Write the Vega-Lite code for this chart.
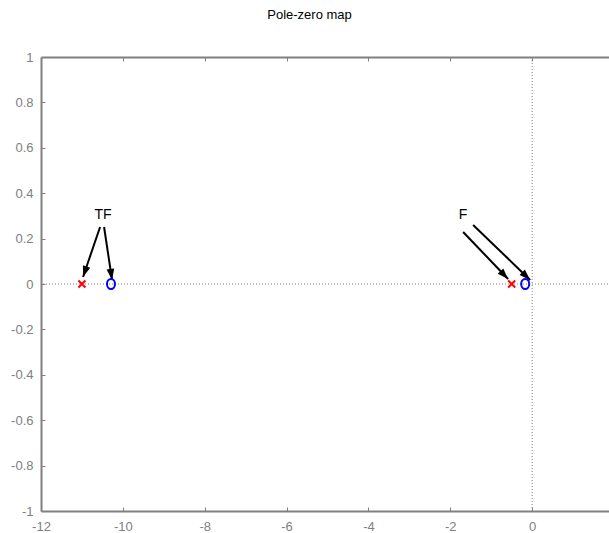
{
  "$schema": "https://vega.github.io/schema/vega-lite/v6.json",
  "width": 573,
  "height": 454,
  "autosize": {"type": "none"},
  "padding": {"left": 41, "top": 57, "right": -5, "bottom": 22},
  "title": {
    "text": "Pole-zero map",
    "font": "Liberation Sans",
    "fontSize": 13,
    "fontWeight": "normal",
    "color": "#000000",
    "dx": -18,
    "offset": 19,
    "baseline": "alphabetic"
  },
  "config": {
    "view": {"stroke": null},
    "axis": {
      "domainColor": "#808080",
      "domainWidth": 2,
      "tickColor": "#808080",
      "tickSize": -4,
      "tickWidth": 1,
      "labelColor": "#808080",
      "labelFont": "Liberation Sans",
      "labelFontSize": 13,
      "labelPadding": 12,
      "labelOverlap": false,
      "labelFlush": false,
      "grid": false,
      "title": null
    }
  },
  "datasets": {
    "poles": [{"re": -11, "im": 0}, {"re": -0.5, "im": 0}],
    "zeros": [{"re": -10.29, "im": 0}, {"re": -0.17, "im": 0}],
    "origin": [{"v": 0}],
    "arrows": [
      {"id": "tf_pole", "re0": -10.557, "im0": 0.251, "re1": -10.973, "im1": 0.031},
      {"id": "tf_zero", "re0": -10.459, "im0": 0.251, "re1": -10.264, "im1": 0.018},
      {"id": "f_pole", "re0": -1.686, "im0": 0.229, "re1": -0.587, "im1": 0.022},
      {"id": "f_zero", "re0": -1.442, "im0": 0.26, "re1": -0.049, "im1": 0.018}
    ],
    "labels": [
      {"name": "TF", "re": -10.484, "im": 0.304},
      {"name": "F", "re": -1.686, "im": 0.304}
    ]
  },
  "layer": [
    {
      "data": {"name": "origin"},
      "mark": {"type": "rule", "color": "#808080", "strokeWidth": 1, "strokeDash": [1, 2]},
      "encoding": {
        "y": {"field": "v", "type": "quantitative", "scale": {"domain": [-1, 1], "nice": false, "zero": false}, "axis": null}
      }
    },
    {
      "data": {"name": "origin"},
      "mark": {"type": "rule", "color": "#808080", "strokeWidth": 1, "strokeDash": [1, 2]},
      "encoding": {
        "x": {"field": "v", "type": "quantitative", "scale": {"domain": [-12, 2], "nice": false, "zero": false}, "axis": null}
      }
    },
    {
      "data": {"name": "arrows"},
      "mark": {"type": "rule", "color": "#000000", "strokeWidth": 2},
      "encoding": {
        "x": {"field": "re0", "type": "quantitative", "scale": {"domain": [-12, 2], "nice": false, "zero": false}, "axis": null},
        "y": {"field": "im0", "type": "quantitative", "scale": {"domain": [-1, 1], "nice": false, "zero": false}, "axis": null},
        "x2": {"field": "re1"},
        "y2": {"field": "im1"}
      }
    },
    {
      "data": {"name": "arrows"},
      "transform": [{"filter": "datum.id == 'tf_pole'"}],
      "mark": {"type": "point", "shape": "M0,0L-0.35,-1L0.35,-1Z", "filled": true, "color": "#000000", "opacity": 1, "size": 484, "angle": 18.8},
      "encoding": {
        "x": {"field": "re1", "type": "quantitative", "scale": {"domain": [-12, 2], "nice": false, "zero": false}, "axis": null},
        "y": {"field": "im1", "type": "quantitative", "scale": {"domain": [-1, 1], "nice": false, "zero": false}, "axis": null}
      }
    },
    {
      "data": {"name": "arrows"},
      "transform": [{"filter": "datum.id == 'tf_zero'"}],
      "mark": {"type": "point", "shape": "M0,0L-0.35,-1L0.35,-1Z", "filled": true, "color": "#000000", "opacity": 1, "size": 484, "angle": -8.6},
      "encoding": {
        "x": {"field": "re1", "type": "quantitative", "scale": {"domain": [-12, 2], "nice": false, "zero": false}, "axis": null},
        "y": {"field": "im1", "type": "quantitative", "scale": {"domain": [-1, 1], "nice": false, "zero": false}, "axis": null}
      }
    },
    {
      "data": {"name": "arrows"},
      "transform": [{"filter": "datum.id == 'f_pole'"}],
      "mark": {"type": "point", "shape": "M0,0L-0.35,-1L0.35,-1Z", "filled": true, "color": "#000000", "opacity": 1, "size": 484, "angle": -43.8},
      "encoding": {
        "x": {"field": "re1", "type": "quantitative", "scale": {"domain": [-12, 2], "nice": false, "zero": false}, "axis": null},
        "y": {"field": "im1", "type": "quantitative", "scale": {"domain": [-1, 1], "nice": false, "zero": false}, "axis": null}
      }
    },
    {
      "data": {"name": "arrows"},
      "transform": [{"filter": "datum.id == 'f_zero'"}],
      "mark": {"type": "point", "shape": "M0,0L-0.35,-1L0.35,-1Z", "filled": true, "color": "#000000", "opacity": 1, "size": 484, "angle": -46},
      "encoding": {
        "x": {"field": "re1", "type": "quantitative", "scale": {"domain": [-12, 2], "nice": false, "zero": false}, "axis": null},
        "y": {"field": "im1", "type": "quantitative", "scale": {"domain": [-1, 1], "nice": false, "zero": false}, "axis": null}
      }
    },
    {
      "data": {"name": "poles"},
      "mark": {"type": "point", "shape": "M-1,-1L1,1M-1,1L1,-1", "filled": false, "color": "#ff0000", "strokeWidth": 2, "opacity": 1, "size": 49},
      "encoding": {
        "x": {
          "field": "re", "type": "quantitative",
          "scale": {"domain": [-12, 2], "nice": false, "zero": false},
          "axis": {
            "orient": "bottom",
            "values": [-12, -10, -8, -6, -4, -2, 0, 2],
            "format": "~g",
            "labelPadding": 13,
            "labelExpr": "datum.value >= 2 ? '' : replace(datum.label, '\u2212', '-')"
          }
        },
        "y": {
          "field": "im", "type": "quantitative",
          "scale": {"domain": [-1, 1], "nice": false, "zero": false},
          "axis": {
            "orient": "left",
            "values": [-1, -0.8, -0.6, -0.4, -0.2, 0, 0.2, 0.4, 0.6, 0.8, 1],
            "format": "~g",
            "labelExpr": "replace(datum.label, '\u2212', '-')"
          }
        }
      }
    },
    {
      "data": {"name": "zeros"},
      "mark": {"type": "point", "shape": "M0,-1A0.8,1 0 1,1 0,1A0.8,1 0 1,1 0,-1Z", "filled": false, "color": "#0000ff", "strokeWidth": 2, "opacity": 1, "size": 100},
      "encoding": {
        "x": {
          "field": "re", "type": "quantitative",
          "scale": {"domain": [-12, 2], "nice": false, "zero": false},
          "axis": {"orient": "top", "values": [-12, -10, -8, -6, -4, -2, 0, 2], "labels": false}
        },
        "y": {
          "field": "im", "type": "quantitative",
          "scale": {"domain": [-1, 1], "nice": false, "zero": false},
          "axis": {"orient": "right", "values": [-1, -0.8, -0.6, -0.4, -0.2, 0, 0.2, 0.4, 0.6, 0.8, 1], "labels": false}
        }
      }
    },
    {
      "data": {"name": "labels"},
      "mark": {"type": "text", "font": "Liberation Sans", "fontSize": 14, "color": "#000000", "align": "center", "baseline": "middle"},
      "encoding": {
        "x": {"field": "re", "type": "quantitative", "scale": {"domain": [-12, 2], "nice": false, "zero": false}, "axis": null},
        "y": {"field": "im", "type": "quantitative", "scale": {"domain": [-1, 1], "nice": false, "zero": false}, "axis": null},
        "text": {"field": "name"}
      }
    }
  ],
  "resolve": {"axis": {"x": "independent", "y": "independent"}}
}
